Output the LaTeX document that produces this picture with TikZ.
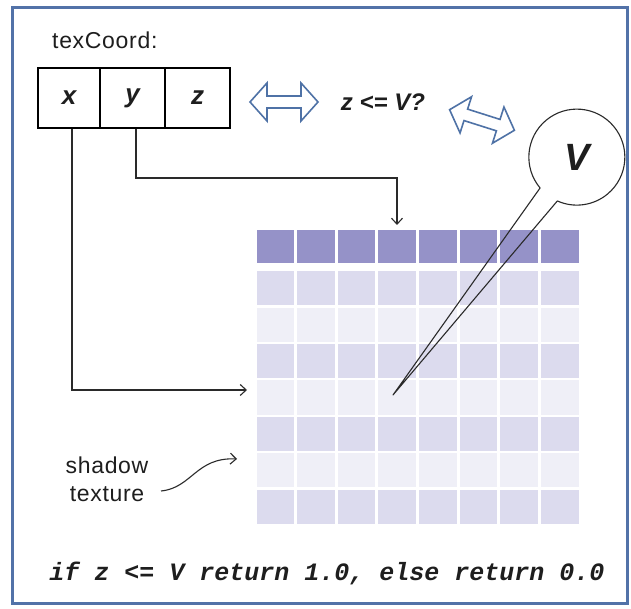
\documentclass[tikz,border=0pt]{standalone}
\usepackage{fontspec}
\setmainfont{Liberation Sans}
\setmonofont{Liberation Mono}
\usetikzlibrary{arrows.meta,calc}
\definecolor{frameblue}{HTML}{5272A8}
\definecolor{arrowblue}{HTML}{4F72A6}
\definecolor{celldark}{HTML}{9592C8}
\definecolor{cellmid}{HTML}{DCDBEE}
\definecolor{celllight}{HTML}{EFEFF7}
\definecolor{linegray}{HTML}{2A2A2A}
\definecolor{textgray}{HTML}{1E1E1E}
\begin{document}
\begin{tikzpicture}[x=1pt,y=1pt,
  coordbox/.style={draw=black, line width=1.2pt, minimum height=60pt, inner sep=0pt,
    text=textgray, font=\bfseries\itshape\fontsize{26}{28}\selectfont},
  conn/.style={draw=linegray, line width=1.1pt, -{Straight Barb[length=6pt,width=11pt,line width=1.1pt]}},
  plain/.style={draw=linegray, line width=1.1pt},
  dblarrow/.pic={\draw[arrowblue, line width=1.6pt, fill=white, line join=miter]
     (-34,0) -- (-17,19) -- (-17,6) -- (17,6) -- (17,19) -- (34,0) -- (17,-19) -- (17,-6)
     -- (-17,-6) -- (-17,-19) -- cycle;},
  lbl/.style={text=textgray, font=\addfontfeatures{LetterSpace=3}\fontsize{23}{28}\selectfont, align=center, inner sep=0pt}
]
\useasboundingbox (0,0) rectangle (631,609);
\fill[white] (0,0) rectangle (631,609);
\draw[frameblue, line width=3pt] (12,5) rectangle (627,601);

% texCoord label and boxes
\node[lbl, anchor=west] (tc) at (52,569) {texCoord:};
\node[coordbox, minimum width=62pt] (bx) at (69,511) {x};
\node[coordbox, minimum width=65pt] (by) at (132.5,511) {y};
\node[coordbox, minimum width=65pt] (bz) at (197.5,511) {z};

% comparison
\pic (a1) at (284,507) {dblarrow};
\node[text=textgray, font=\bfseries\itshape\fontsize{24}{26}\selectfont, inner sep=0pt] (cmp) at (383,507) {z <= V?};
\pic[rotate=-17.6] (a2) at (482,489) {dblarrow};

% shadow texture grid
\foreach \j in {0,...,7} {
  \fill[celldark] (255+\j*40.625+1.5,379) rectangle (255+\j*40.625+40.625-1.5,346);
}
\foreach \i in {1,...,7} {
  \pgfmathsetmacro{\top}{339-(\i-1)*36.43}
  \pgfmathsetmacro{\bot}{\top-36.43}
  \ifodd\i \def\cc{cellmid}\else\def\cc{celllight}\fi
  \foreach \j in {0,...,7} {
    \fill[\cc] (255+\j*40.625+1.5,\top-1.2) rectangle (255+\j*40.625+40.625-1.5,\bot+1.2);
  }
}

% connectors from x and y
\coordinate (xin) at (247,219);
\coordinate (yin) at (397,384);
\draw[conn] ([xshift=3pt]bx.south) |- (xin);
\draw[conn] ([xshift=3.5pt]by.south) |- ($(yin)+(0,47)$) -- (yin);

% V bubble
\node[circle, minimum size=96pt, inner sep=0pt, text=textgray, font=\bfseries\itshape\fontsize{38}{40}\selectfont] (V) at (577,452) {V};
\coordinate (tip) at (393,214);
\draw[plain, line join=round] (tip) -- (V.220) arc[start angle=220, end angle=-114, radius=48pt] -- cycle;

% shadow texture label
\node[lbl] (st) at (107,130) {shadow\\texture};
\coordinate (sa) at (161,118);
\coordinate (sb) at (237,150);
\draw[conn] (sa) .. controls (192,121) and (196,152) .. (sb);

% bottom code
\node[text=textgray, font=\ttfamily\bfseries\itshape\fontsize{25}{26}\selectfont, inner sep=0pt] (code) at (327,36) {if z <= V return 1.0, else return 0.0};
\end{tikzpicture}
\end{document}
